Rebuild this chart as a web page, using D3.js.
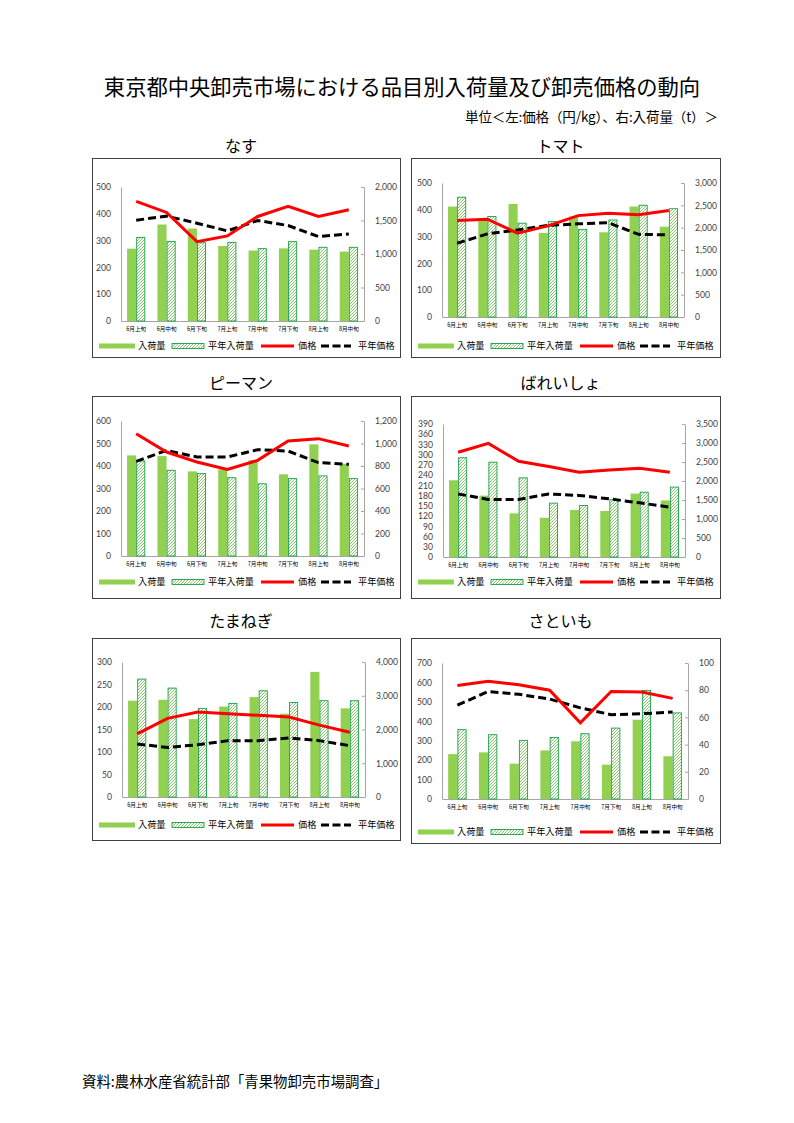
<!DOCTYPE html>
<html><head><meta charset="utf-8">
<script src="https://cdn.jsdelivr.net/npm/d3@7"></script>
<style>
html,body{margin:0;padding:0;background:#fff;}
svg{display:block;}
</style></head>
<body>
<svg id="c" width="794" height="1123"></svg>
<script>
const categories = ["6月上旬","6月中旬","6月下旬","7月上旬","7月中旬","7月下旬","8月上旬","8月中旬"];
const legendLabels = ["入荷量","平年入荷量","価格","平年価格"];

// なす
const nasuVol      = [270, 360, 345, 280, 263, 271, 266, 259];
const nasuAvgVol   = [312, 297, 292, 293, 270, 296, 275, 275];
const nasuPrice    = [1785, 1620, 1185, 1270, 1560, 1710, 1560, 1660];
const nasuAvgPrice = [1505, 1565, 1460, 1345, 1500, 1425, 1260, 1300];
const nasuLeftTicks  = [0,100,200,300,400,500];
const nasuRightTicks = [0,500,1000,1500,2000];

// トマト
const tomatoVol      = [412, 362, 422, 314, 375, 316, 412, 337];
const tomatoAvgVol   = [447, 375, 350, 356, 327, 362, 417, 404];
const tomatoPrice    = [2160, 2190, 1875, 2040, 2270, 2325, 2290, 2385];
const tomatoAvgPrice = [1650, 1860, 1950, 2050, 2085, 2110, 1850, 1840];
const tomatoLeftTicks  = [0,100,200,300,400,500];
const tomatoRightTicks = [0,500,1000,1500,2000,2500,3000];

// ピーマン
const pimanVol      = [447, 444, 376, 385, 425, 363, 496, 410];
const pimanAvgVol   = [422, 381, 366, 348, 321, 344, 356, 344];
const pimanPrice    = [1087, 924, 836, 770, 850, 1022, 1043, 978];
const pimanAvgPrice = [841, 939, 880, 880, 945, 933, 830, 815];
const pimanLeftTicks  = [0,100,200,300,400,500,600];
const pimanRightTicks = [0,200,400,600,800,1000,1200];

// ばれいしょ
const potatoVol      = [225, 180, 128, 115, 138, 135, 186, 166];
const potatoAvgVol   = [291, 278, 232, 158, 151, 168, 190, 205];
const potatoPrice    = [2756, 2990, 2520, 2380, 2230, 2290, 2335, 2230];
const potatoAvgPrice = [1660, 1515, 1515, 1660, 1620, 1530, 1425, 1310];
const potatoLeftTicks  = [0,30,60,90,120,150,180,210,240,270,300,330,360,390];
const potatoRightTicks = [0,500,1000,1500,2000,2500,3000,3500];

// たまねぎ
const onionVol      = [214, 216, 173, 201, 222, 185, 278, 197];
const onionAvgVol   = [262, 242, 197, 208, 236, 210, 214, 214];
const onionPrice    = [1870, 2330, 2520, 2470, 2420, 2370, 2130, 1920];
const onionAvgPrice = [1570, 1470, 1550, 1670, 1670, 1750, 1670, 1520];
const onionLeftTicks  = [0,50,100,150,200,250,300];
const onionRightTicks = [0,1000,2000,3000,4000];

// さといも
const taroVol      = [231, 240, 182, 250, 297, 177, 408, 220];
const taroAvgVol   = [357, 331, 302, 317, 336, 365, 559, 443];
const taroPrice    = [83.5, 86.5, 84, 80, 56, 79, 78.6, 74];
const taroAvgPrice = [69, 79, 77, 73.5, 67, 62, 62.7, 64];
const taroLeftTicks  = [0,100,200,300,400,500,600,700];
const taroRightTicks = [0,20,40,60,80,100];

const charts = [
  {title:"なす", vol:nasuVol, avgVol:nasuAvgVol, price:nasuPrice, avgPrice:nasuAvgPrice, lt:nasuLeftTicks, rt:nasuRightTicks,
   box:[92,158,308,199], plot:[121,364,187,321], titleY:152, legY:346},
  {title:"トマト", vol:tomatoVol, avgVol:tomatoAvgVol, price:tomatoPrice, avgPrice:tomatoAvgPrice, lt:tomatoLeftTicks, rt:tomatoRightTicks,
   box:[411,158,309,199], plot:[442,684,183,317], titleY:152, legY:346},
  {title:"ピーマン", vol:pimanVol, avgVol:pimanAvgVol, price:pimanPrice, avgPrice:pimanAvgPrice, lt:pimanLeftTicks, rt:pimanRightTicks,
   box:[92,396,308,202], plot:[121,364,421,556], titleY:389, legY:582},
  {title:"ばれいしょ", vol:potatoVol, avgVol:potatoAvgVol, price:potatoPrice, avgPrice:potatoAvgPrice, lt:potatoLeftTicks, rt:potatoRightTicks,
   box:[411,396,309,202], plot:[443,685,424,557], titleY:389, legY:582},
  {title:"たまねぎ", vol:onionVol, avgVol:onionAvgVol, price:onionPrice, avgPrice:onionAvgPrice, lt:onionLeftTicks, rt:onionRightTicks,
   box:[92,638,308,202], plot:[122,365,662,797], titleY:627, legY:825},
  {title:"さといも", vol:taroVol, avgVol:taroAvgVol, price:taroPrice, avgPrice:taroAvgPrice, lt:taroLeftTicks, rt:taroRightTicks,
   box:[411,638,309,205], plot:[442,688,663,799], titleY:627, legY:832}
];

const JP = "'Noto Sans CJK JP','Noto Sans',sans-serif";
const NUM = "Lato,'Liberation Sans',sans-serif";
const GREEN = "#92d050";
const HATCH_STROKE = "#16a04a";
const AXIS = "#a6a6a6";

const svg = d3.select("#c");
const defs = svg.append("defs");
const pat = defs.append("pattern").attr("id","hatch").attr("patternUnits","userSpaceOnUse")
  .attr("width",3).attr("height",3);
pat.append("rect").attr("width",3).attr("height",3).attr("fill","#fff");
pat.append("path").attr("d","M-0.75,0.75 L0.75,-0.75 M0,3 L3,0 M2.25,3.75 L3.75,2.25")
  .attr("stroke","#7cc35a").attr("stroke-width",0.9);

svg.append("text").attr("x",402).attr("y",95).attr("text-anchor","middle")
  .attr("font-family",JP).attr("font-size",21.3).attr("fill","#000")
  .text("東京都中央卸売市場における品目別入荷量及び卸売価格の動向");
svg.append("text").attr("x",465).attr("y",122)
  .attr("font-family",JP).attr("font-size",13.5).attr("fill","#000")
  .attr("textLength",253).attr("lengthAdjust","spacing")
  .text("単位＜左:価格（円/kg）、右:入荷量（t）＞");
svg.append("text").attr("x",82).attr("y",1087)
  .attr("font-family",JP).attr("font-size",14.4).attr("fill","#000")
  .text("資料:農林水産省統計部「青果物卸売市場調査」");

const fmt = d3.format(",");

charts.forEach(c => {
  const g = svg.append("g");
  const [bx,by,bw,bh] = c.box;
  const [pl,pr,pt,pb] = c.plot;
  g.append("rect").attr("x",bx+0.5).attr("y",by+0.5).attr("width",bw).attr("height",bh)
    .attr("fill","#fff").attr("stroke","#404040").attr("stroke-width",1);
  g.append("text").attr("x",bx+bw/2-5).attr("y",c.titleY).attr("text-anchor","middle")
    .attr("font-family",JP).attr("font-size",16).attr("font-weight",400).text(c.title);

  const x = d3.scaleBand().domain(categories).range([pl,pr]).padding(0);
  const yL = d3.scaleLinear().domain([0, d3.max(c.lt)]).range([pb,pt]);
  const yR = d3.scaleLinear().domain([0, d3.max(c.rt)]).range([pb,pt]);
  const bwid = x.bandwidth()*0.3;

  const axL = d3.axisLeft(yL).tickValues(c.lt).tickSize(0).tickPadding(10).tickFormat(fmt);
  const gL = g.append("g").attr("transform",`translate(${pl},0)`).call(axL);
  gL.select(".domain").attr("stroke",AXIS);
  gL.selectAll("text").attr("font-family",NUM).attr("font-size",8.6).attr("fill","#404040");

  const axR = d3.axisRight(yR).tickValues(c.rt).tickSize(0).tickPadding(11).tickFormat(fmt);
  const gR = g.append("g").attr("transform",`translate(${pr},0)`).call(axR);
  gR.select(".domain").attr("stroke",AXIS);
  gR.selectAll("text").attr("font-family",NUM).attr("font-size",8.6).attr("fill","#404040");
  gR.selectAll(".tick").append("line").attr("x1",-3).attr("x2",0).attr("stroke",AXIS);

  const axB = d3.axisBottom(x).tickSize(0).tickPadding(6);
  const gB = g.append("g").attr("transform",`translate(0,${pb})`).call(axB);
  gB.select(".domain").attr("stroke",AXIS);
  gB.selectAll("text").attr("font-family",JP).attr("font-size",5.6).attr("fill","#000");

  g.append("g").selectAll("rect").data(c.vol).join("rect")
    .attr("x",(d,i)=>x(categories[i])+x.bandwidth()/2-bwid)
    .attr("y",d=>yL(d)).attr("width",bwid).attr("height",d=>pb-yL(d))
    .attr("fill",GREEN);
  g.append("g").selectAll("rect").data(c.avgVol).join("rect")
    .attr("x",(d,i)=>x(categories[i])+x.bandwidth()/2+0.5)
    .attr("y",d=>yL(d)).attr("width",bwid-1).attr("height",d=>pb-yL(d))
    .attr("fill","url(#hatch)").attr("stroke",HATCH_STROKE).attr("stroke-width",0.9);

  const line = yS => d3.line().x((d,i)=>x(categories[i])+x.bandwidth()/2).y(d=>yS(d));
  g.append("path").datum(c.avgPrice).attr("d",line(yR)).attr("fill","none")
    .attr("stroke","#000").attr("stroke-width",3).attr("stroke-dasharray","8,4");
  g.append("path").datum(c.price).attr("d",line(yR)).attr("fill","none")
    .attr("stroke","#ff0000").attr("stroke-width",3);

  const ly = c.legY;
  const lg = g.append("g").attr("font-family",JP).attr("font-size",9.2);
  lg.append("rect").attr("x",bx+7).attr("y",ly-2.5).attr("width",36).attr("height",5).attr("fill",GREEN);
  lg.append("text").attr("x",bx+46).attr("y",ly+3.3).text(legendLabels[0]);
  lg.append("rect").attr("x",bx+80).attr("y",ly-2.5).attr("width",32).attr("height",5)
    .attr("fill","url(#hatch)").attr("stroke",HATCH_STROKE).attr("stroke-width",0.9);
  lg.append("text").attr("x",bx+116).attr("y",ly+3.3).text(legendLabels[1]);
  lg.append("line").attr("x1",bx+169).attr("x2",bx+202).attr("y1",ly).attr("y2",ly)
    .attr("stroke","#ff0000").attr("stroke-width",3);
  lg.append("text").attr("x",bx+206).attr("y",ly+3.3).text(legendLabels[2]);
  lg.append("line").attr("x1",bx+229).attr("x2",bx+259).attr("y1",ly).attr("y2",ly)
    .attr("stroke","#000").attr("stroke-width",3).attr("stroke-dasharray","8,3.5");
  lg.append("text").attr("x",bx+266).attr("y",ly+3.3).text(legendLabels[3]);
});
</script>
</body></html>
